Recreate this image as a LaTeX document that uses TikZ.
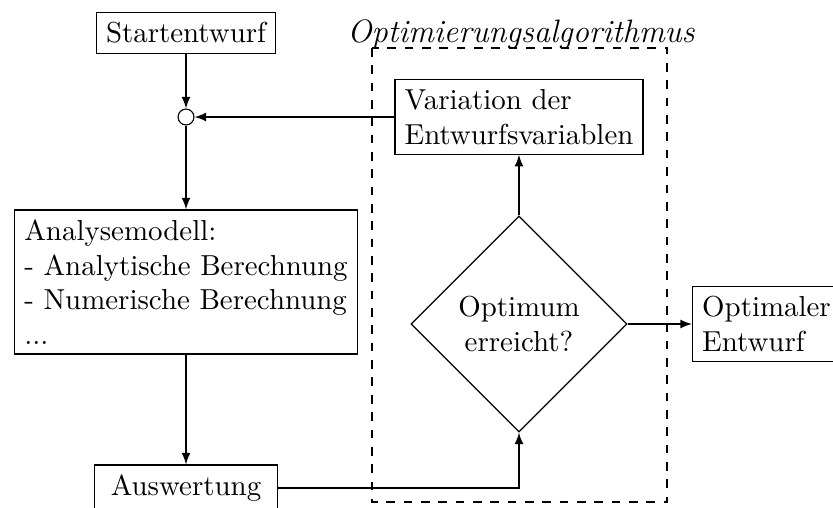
\documentclass[tikz,border=0pt]{standalone}
\usepackage{tikz}
\usetikzlibrary{%
  arrows,%
  shapes,%
  shapes.geometric,% diamond
  positioning%
}

\begin{document}
\begin{tikzpicture}[
    x=0.346pt, y=-0.346pt,
    every node/.style={font=\normalsize},
    Box/.style={draw, rectangle, align=left},
    Decision/.style={draw, diamond, aspect=1, inner sep=0pt,
      minimum size=74.7pt, align=center},
    Joint/.style={draw, circle, inner sep=0pt, minimum size=5.5pt},
    Flow/.style={-latex}]
  \useasboundingbox (0,0) rectangle (833,508);
  % Optimierungsschleife
  \draw[dashed] (372,48) rectangle (667,502);
  \node [font=\fontsize{11.2pt}{13pt}\selectfont\itshape] (AlgoLabel) at (521,34) {Optimierungsalgorithmus};
  % Knoten
  \node [Box] (Start) at (186,33) {Startentwurf};
  \node [Joint] (Merge) at (186,117) {};
  \node [Box] (Model) at (186,282) {Analysemodell:\\- Analytische Berechnung\\- Numerische Berechnung\\...};
  \node [Box, inner xsep=5.5pt] (Eval) at (186,488) {Auswertung};
  \node [Decision] (Check) at (519,324) {Optimum\\erreicht?};
  \node [Box] (Vary) at (519,117) {Variation der\\Entwurfsvariablen};
  \node [Box, anchor=west] (Result) at (692,324) {Optimaler\\Entwurf};
  % Verbindungen
  \draw [Flow] (Start) -- (Merge);
  \draw [Flow] (Merge) -- (Model);
  \draw [Flow] (Model) -- (Eval);
  \draw [Flow] (Eval.east) -| (Check.south);
  \draw [Flow] (Check.north) -- (Vary.south);
  \draw [Flow] (Vary.west) -- (Merge.east);
  \draw [Flow] (Check.east) -- (Result.west);
\end{tikzpicture}
\end{document}
